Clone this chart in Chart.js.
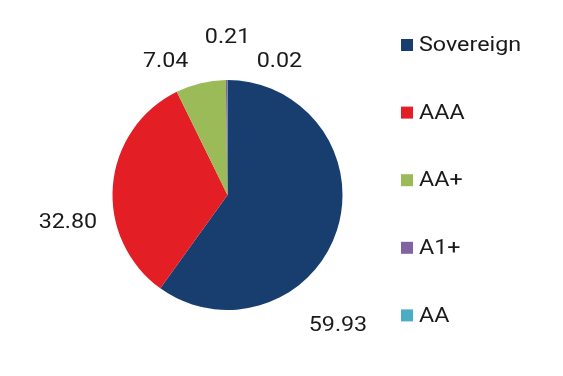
<!DOCTYPE html>
<html>
<head>
<meta charset="utf-8">
<script src="https://cdn.jsdelivr.net/npm/chart.js@4"></script>
<style>
  html, body { margin: 0; padding: 0; background: #fff; }
  #wrap { width: 563px; height: 376px; position: relative; }
</style>
</head>
<body>
<div id="wrap"><canvas id="chart-rating"></canvas></div>
<script>
const categories = ['Sovereign', 'AAA', 'AA+', 'A1+', 'AA'];
const values = [59.93, 32.80, 7.04, 0.21, 0.02];
const colors = ['#183e70', '#e31e25', '#9bbb59', '#8064a2', '#4bacc6'];

// label offsets from the outer middle of each slice
const labelOffsets = [[1, 95], [-45, 37], [-35, -21], [1, -42], [52, -18]];

const textColor = '#1a1a1a';
const fontFamily = 'Roboto, "Noto Sans", sans-serif';
const stretch = 1.11; // the source text is a little wider than plain Roboto

function wideText(ctx, text, x, y, align) {
    ctx.save();
    ctx.translate(x, y);
    ctx.scale(stretch, 1);
    ctx.textAlign = align;
    ctx.fillText(text, 0, 0);
    ctx.restore();
}

const sliceLabels = {
    id: 'sliceLabels',
    afterDatasetsDraw(chart) {
        const ctx = chart.ctx;
        const meta = chart.getDatasetMeta(0);
        ctx.save();
        ctx.font = `21px ${fontFamily}`;
        ctx.fillStyle = textColor;
        ctx.textBaseline = 'middle';
        meta.data.forEach((arc, i) => {
            const p = arc.getProps(['x', 'y', 'startAngle', 'endAngle', 'outerRadius'], true);
            const mid = (p.startAngle + p.endAngle) / 2;
            const x = p.x + Math.cos(mid) * p.outerRadius + labelOffsets[i][0];
            const y = p.y + Math.sin(mid) * p.outerRadius + labelOffsets[i][1];
            wideText(ctx, values[i].toFixed(2), x, y, 'center');
        });
        ctx.restore();
    }
};

const sideLegend = {
    id: 'sideLegend',
    afterDraw(chart) {
        const ctx = chart.ctx;
        const left = 401, top = 45, step = 67.6, box = 12;
        ctx.save();
        ctx.font = `21px ${fontFamily}`;
        ctx.textBaseline = 'middle';
        chart.data.labels.forEach((label, i) => {
            const y = top + i * step;
            ctx.fillStyle = chart.data.datasets[0].backgroundColor[i];
            ctx.fillRect(left, y - box / 2, box, box);
            ctx.fillStyle = textColor;
            wideText(ctx, label, left + 18, y + 1, 'left');
        });
        ctx.restore();
    }
};

const chart = new Chart(document.getElementById('chart-rating'), {
    type: 'pie',
    data: {
        labels: categories,
        datasets: [{
            data: values,
            backgroundColor: colors,
            borderWidth: 0
        }]
    },
    options: {
        responsive: true,
        maintainAspectRatio: false,
        animation: false,
        layout: { padding: { left: 112, right: 220, top: 80, bottom: 66 } },
        plugins: {
            legend: { display: false },
            tooltip: { enabled: false }
        }
    },
    plugins: [sliceLabels, sideLegend]
});
</script>
</body>
</html>
